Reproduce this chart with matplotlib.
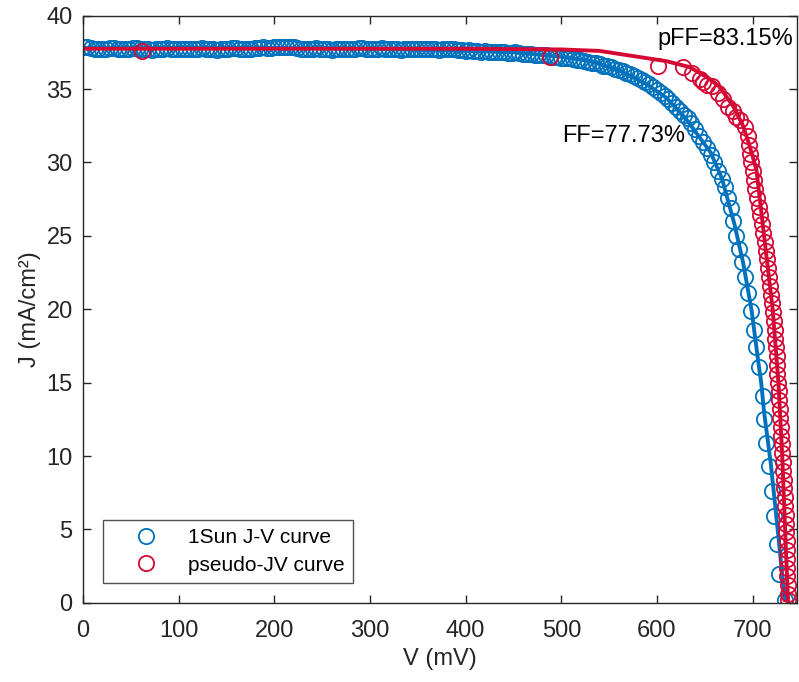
import matplotlib.pyplot as plt

# 1Sun J-V measured points (mV, mA/cm2)
v_1sun = [0, 4, 8, 12, 16, 20, 24, 28, 32, 36,
          40, 44, 48, 52, 56, 60, 64, 68, 72, 76,
          80, 84, 88, 92, 96, 100, 104, 108, 112, 116,
          120, 124, 128, 132, 136, 140, 144, 148, 152, 156,
          160, 164, 168, 172, 176, 180, 184, 188, 192, 196,
          200, 204, 208, 212, 216, 220, 224, 228, 232, 236,
          240, 244, 248, 252, 256, 260, 264, 268, 272, 276,
          280, 284, 288, 292, 296, 300, 304, 308, 312, 316,
          320, 324, 328, 332, 336, 340, 344, 348, 352, 356,
          360, 364, 368, 372, 376, 380, 384, 388, 392, 396,
          400, 404, 408, 412, 416, 420, 424, 428, 432, 436,
          440, 444, 448, 452, 456, 460, 464, 468, 472, 476,
          480, 484, 488, 492, 496, 500, 504, 508, 512, 516,
          520, 524, 528, 532, 536, 540, 544, 548, 552, 556,
          560, 564, 568, 572, 576, 580, 584, 588, 592, 596,
          600, 604, 608, 612, 616, 620, 624, 628, 632, 636,
          640, 644, 648, 652,
          656, 660, 664, 668, 671, 674, 677, 680, 683, 686,
          689, 692, 695, 698, 701, 704, 706.5, 710.5, 712, 714,
          717, 720, 722.5, 725, 727.5, 734]
j_1sun = [37.85, 37.85, 37.8, 37.75, 37.7, 37.7, 37.75, 37.8, 37.8, 37.75,
          37.7, 37.7, 37.75, 37.8, 37.8, 37.75, 37.7, 37.7, 37.65, 37.7,
          37.75, 37.75, 37.8, 37.75, 37.7, 37.7, 37.7, 37.75, 37.75, 37.7,
          37.75, 37.8, 37.75, 37.7, 37.7, 37.65, 37.7, 37.7, 37.75, 37.8,
          37.8, 37.75, 37.7, 37.7, 37.75, 37.8, 37.8, 37.85, 37.8, 37.8,
          37.85, 37.85, 37.9, 37.9, 37.85, 37.85, 37.8, 37.75, 37.7, 37.75,
          37.75, 37.8, 37.75, 37.7, 37.7, 37.65, 37.7, 37.7, 37.75, 37.75,
          37.7, 37.75, 37.8, 37.8, 37.75, 37.7, 37.7, 37.75, 37.8, 37.75,
          37.75, 37.7, 37.7, 37.65, 37.7, 37.75, 37.75, 37.7, 37.7, 37.7,
          37.75, 37.75, 37.7, 37.65, 37.7, 37.75, 37.7, 37.7, 37.65, 37.65,
          37.6, 37.65, 37.6, 37.6, 37.55, 37.6, 37.55, 37.55, 37.5, 37.5,
          37.5, 37.45, 37.45, 37.5, 37.45, 37.4, 37.4, 37.4, 37.35, 37.35,
          37.3, 37.3, 37.25, 37.2, 37.2, 37.15, 37.1, 37.1, 37.05, 37.0,
          36.95, 36.9, 36.85, 36.8, 36.75, 36.7, 36.6, 36.55, 36.5, 36.4,
          36.3, 36.2, 36.1, 36.0, 35.9, 35.75, 35.6, 35.5, 35.35, 35.15,
          34.95, 34.75, 34.55, 34.3, 34.05, 33.8, 33.5, 33.25, 33.0, 32.7,
          32.3, 31.8, 31.4, 31.0,
          30.5, 30.0, 29.4, 28.9, 28.3, 27.6, 26.9, 26.0, 25.0, 24.1,
          23.2, 22.2, 21.1, 19.9, 18.6, 17.4, 16.1, 14.1, 12.5, 10.9,
          9.3, 7.6, 5.9, 4.0, 2.0, 0.2]

# pseudo J-V points
v_pseudo = [62, 488, 601, 627, 637, 645, 648, 652, 658, 664, 669, 674, 679, 683,
            687, 692, 695, 696, 697, 698, 700, 701, 703, 705, 707, 708, 710, 711,
            712.5, 714, 715, 716, 717, 718, 719, 720, 721, 722, 723, 723.5, 724.5,
            725, 725.5, 726, 727, 727.5, 728, 728.5, 729, 729.5, 730, 730.5, 731,
            731.5, 732, 732.5, 733, 733.5, 734, 734.5, 735, 735, 735.5, 735.5,
            736, 736, 736, 736.5, 736.5, 736.5]
j_pseudo = [37.6, 37.2, 36.6, 36.5, 36.1, 35.7, 35.5, 35.3, 35.2, 34.7, 34.3, 33.8,
            33.5, 33.1, 32.9, 32.4, 31.8, 31.2, 30.6, 30.0, 29.4, 28.8, 28.2, 27.6,
            27.0, 26.4, 25.8, 25.2, 24.6, 24.0, 23.4, 22.8, 22.2, 21.6, 21.0, 20.4,
            19.8, 19.2, 18.6, 18.0, 17.4, 16.8, 16.2, 15.6, 15.0, 14.4, 13.8, 13.2,
            12.6, 12.0, 11.4, 10.8, 10.2, 9.6, 9.0, 8.4, 7.8, 7.2, 6.6, 6.0, 5.4,
            4.8, 4.2, 3.6, 3.0, 2.4, 1.8, 1.2, 0.6, 0.2]

# fitted curves
v_fit_1sun = [0, 100, 200, 300, 400, 450, 500, 530, 560, 590, 610, 630, 656,
              668, 681, 690, 699, 703, 706.6, 709, 712, 716, 719, 723, 727, 730.5, 734]
j_fit_1sun = [37.8, 37.8, 37.8, 37.75, 37.6, 37.5, 37.2, 36.9, 36.3, 35.3, 34.4,
              33.0, 30.7, 28.9, 25.8, 23.2, 19.9, 17.9, 16.1, 15.0, 13.0, 11.0,
              9.5, 7.0, 4.5, 2.2, 0.2]
v_fit_pseudo = [0, 200, 400, 500, 540, 575, 610, 634, 650, 665, 680, 690, 697,
                704, 712, 721, 727, 731, 734, 737]
j_fit_pseudo = [37.75, 37.75, 37.75, 37.7, 37.6, 37.25, 36.9, 36.5, 35.9, 35.2,
                33.8, 32.5, 31.1, 29.5, 25.0, 20.0, 15.0, 10.0, 5.0, 0.2]

azul = '#0072BD'
rojo = '#D40A35'
gris = '#262626'

plt.rcParams['font.family'] = ['Liberation Sans', 'DejaVu Sans']

fig = plt.figure(figsize=(7.99, 6.82), dpi=100)
ax = fig.add_axes([0.104, 0.116, 0.893, 0.861])

ax.plot(v_1sun, j_1sun, 'o', mfc='none', mec=azul, ms=11, mew=1.3,
        label='1Sun J-V curve')
ax.plot(v_fit_1sun, j_fit_1sun, '-', color=azul, lw=2.8)
ax.plot(v_pseudo, j_pseudo, 'o', mfc='none', mec=rojo, ms=11, mew=1.3,
        label='pseudo-JV curve')
ax.plot(v_fit_pseudo, j_fit_pseudo, '-', color=rojo, lw=2.8)

ax.text(601, 38.4, 'pFF=83.15%', fontsize=17, va='center', color='k')
ax.text(501, 31.8, 'FF=77.73%', fontsize=17, va='center', color='k')

ax.set_xlim(0, 746)
ax.set_ylim(0, 40)
ax.set_xticks(range(0, 701, 100))
ax.set_yticks(range(0, 41, 5))
ax.set_xlabel('V (mV)', fontsize=17, color=gris, labelpad=5)
ax.set_ylabel('J (mA/cm²)', fontsize=17, color=gris)
ax.tick_params(direction='in', length=6, width=1, top=True, right=True,
               labelsize=17, colors=gris)
ax.tick_params(axis='x', pad=12)
ax.tick_params(axis='y', pad=7.5)
for s in ax.spines.values():
    s.set_color(gris)
    s.set_linewidth(1)

leg = ax.legend(loc='lower left', bbox_to_anchor=(0.028, 0.034), borderaxespad=0,
                fontsize=15, frameon=True, fancybox=False, edgecolor=gris,
                borderpad=0.4, handletextpad=0.4, labelspacing=0.4,
                handlelength=3.3)
leg.get_frame().set_linewidth(1)

fig.savefig('out.png', dpi=100)
